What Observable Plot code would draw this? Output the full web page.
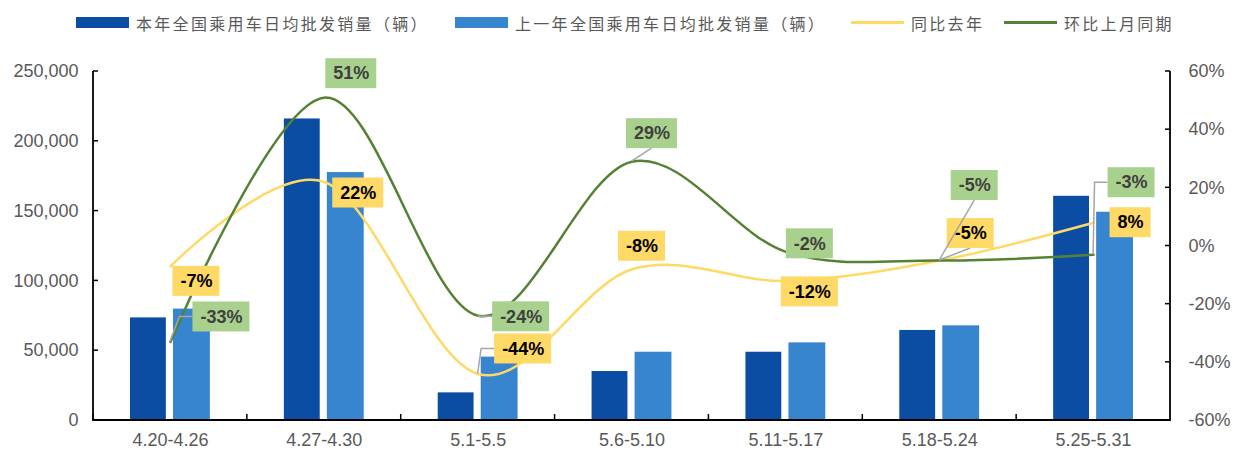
<!DOCTYPE html>
<html><head><meta charset="utf-8">
<script src="https://cdn.jsdelivr.net/npm/d3@7"></script>
<script src="https://cdn.jsdelivr.net/npm/@observablehq/plot@0.6"></script>
<style>
body{margin:0;background:#fff;}
#legend{position:relative;height:40px;width:1238px;font-family:"Noto Sans CJK SC",sans-serif;font-size:16px;color:#595959;}
.item{position:absolute;top:0;height:45px;display:flex;align-items:center;white-space:nowrap;}
.sw{margin-right:7px;flex:none}
.lbl{letter-spacing:2.3px}
</style></head><body>
<div id="legend"></div>
<div id="chart"></div>
<script>
// ---- data ----
const categories = ["4.20-4.26", "4.27-4.30", "5.1-5.5", "5.6-5.10", "5.11-5.17", "5.18-5.24", "5.25-5.31"];
const salesThisYear = [73500, 216000, 19800, 35100, 48900, 64500, 160600];
const salesLastYear = [79800, 177600, 45400, 48900, 55600, 67800, 149200];
const yoyPct = [-7, 22, -44, -8, -12, -5, 8];
const momPct = [-33, 51, -24, 29, -2, -5, -3];
const leftTicks = [0, 50000, 100000, 150000, 200000, 250000];
const rightTicks = [-60, -40, -20, 0, 20, 40, 60];
const seriesNames = ["本年全国乘用车日均批发销量（辆）", "上一年全国乘用车日均批发销量（辆）", "同比去年", "环比上月同期"];

// ---- layout of data labels (pixel offsets from the point) ----
const yoyLabelLayout = [
  {dx: 26, dy: 15}, {dx: 34, dy: 11}, {dx: 45, dy: -25, leader: "side"}, {dx: 10, dy: -23},
  {dx: 24, dy: 11}, {dx: 31, dy: -27, leader: "below"}, {dx: 37, dy: 0}
];
const momLabelLayout = [
  {dx: 51, dy: -25, leader: "side"}, {dx: 27, dy: -24}, {dx: 43, dy: 1, leader: "side"}, {dx: 20, dy: -28, leader: "below"},
  {dx: 24, dy: -8}, {dx: 35, dy: -75, leader: "below"}, {dx: 38, dy: -72, leader: "side"}
];

// ---- styles ----
const C_DARK = "#0b4da2", C_LIGHT = "#3784cf", C_YOY = "#ffd966", C_MOM = "#548235";
const BOX_YOY = "#ffd966", BOX_MOM = "#a9d18e";
const FONT = "'Liberation Sans', Arial, sans-serif";

// ---- legend ----
const legend = d3.select("#legend");
const legendItems = [
  {left: 76, kind: "rect", color: C_DARK},
  {left: 455, kind: "rect", color: C_LIGHT},
  {left: 851, kind: "line", color: C_YOY},
  {left: 1004, kind: "line", color: C_MOM}
];
legendItems.forEach((it, i) => {
  const d = legend.append("div").attr("class", "item").style("left", it.left + "px");
  d.append("div").attr("class", "sw")
    .style("width", "53px").style("height", it.kind === "rect" ? "11px" : "3px")
    .style("background", it.color);
  d.append("span").attr("class", "lbl").text(seriesNames[i]);
});

// ---- chart ----
const Y_MAX = 250000;
const toY = p => (p + 60) / 120 * Y_MAX;
const pct = p => p + "%";
const rows = categories.map((c, i) => ({cat: c, a: salesThisYear[i], b: salesLastYear[i], yoy: yoyPct[i], mom: momPct[i]}));

const PADX = 7.5, BOXH = 30, STUB = 13;
const measureCtx = document.createElement("canvas").getContext("2d");
measureCtx.font = "bold 18px 'Liberation Sans'";

function bandInfo(scales, dims) {
  const bw = typeof scales.x.bandwidth === "function" ? scales.x.bandwidth()
    : (dims.width - dims.marginLeft - dims.marginRight) / categories.length;
  return bw;
}

function labelBoxes(values, layout, fill) {
  return (index, scales, _v, dims) => {
    const g = d3.create("svg:g");
    const bw = bandInfo(scales, dims);
    values.forEach((v, i) => {
      const L = layout[i];
      const px = scales.x(categories[i]) + bw / 2, py = scales.y(toY(v));
      const cx = px + L.dx, cy = py + L.dy;
      const w = measureCtx.measureText(pct(v)).width + 2 * PADX;
      const left = cx - w / 2;
      if (L.leader === "side") {
        g.append("path").attr("d", `M${px},${py}L${left - STUB},${cy}L${left},${cy}`)
          .attr("fill", "none").attr("stroke", "#a6a6a6").attr("stroke-width", 1.5);
      } else if (L.leader === "below") {
        g.append("path").attr("d", `M${px},${py}L${cx},${cy + BOXH / 2}`)
          .attr("fill", "none").attr("stroke", "#a6a6a6").attr("stroke-width", 1.5);
      }
      g.append("rect").attr("x", left).attr("y", cy - BOXH / 2).attr("width", w).attr("height", BOXH).attr("fill", fill);
    });
    return g.node();
  };
}

function labelTexts(values, layout, color) {
  return values.map((v, i) => Plot.text([{cat: categories[i], v}], {
    x: "cat", y: d => toY(d.v), text: d => pct(d.v),
    dx: layout[i].dx, dy: layout[i].dy,
    fontSize: 18, fontWeight: "bold", fill: color, fontFamily: FONT
  }));
}

function axisFrame(index, scales, _v, dims) {
  const g = d3.create("svg:g").attr("stroke", "#000").attr("fill", "none");
  const x0 = dims.marginLeft, x1 = dims.width - dims.marginRight;
  const yb = scales.y(0), yt = scales.y(Y_MAX);
  categories.forEach(c => {
    const xx = scales.x(c);
    g.append("line").attr("x1", xx).attr("x2", xx).attr("y1", yb).attr("y2", yb - 6).attr("stroke-width", 1.5);
  });
  leftTicks.forEach(v => {
    const yy = scales.y(v);
    g.append("line").attr("x1", x0).attr("x2", x0 + 5).attr("y1", yy).attr("y2", yy).attr("stroke-width", 1.5);
  });
  rightTicks.forEach(p => {
    const yy = scales.y(toY(p));
    g.append("line").attr("x1", x1 - 5).attr("x2", x1).attr("y1", yy).attr("y2", yy).attr("stroke-width", 1.5);
  });
  g.append("path").attr("d", `M${x0},${yt}V${yb}H${x1}V${yt}`).attr("stroke-width", 1.8);
  return g.node();
}

const chart = Plot.plot({
  width: 1238, height: 413,
  marginLeft: 93, marginRight: 68, marginTop: 31, marginBottom: 33,
  style: {fontFamily: FONT, fontSize: "18px", color: "#595959", background: "#fff"},
  x: {type: "band", domain: categories, padding: 0, round: false, label: null},
  y: {domain: [0, Y_MAX], label: null},
  marks: [
    Plot.barY(rows, {x: "cat", y: "a", fill: C_DARK, insetLeft: 37, insetRight: 81}),
    Plot.barY(rows, {x: "cat", y: "b", fill: C_LIGHT, insetLeft: 80, insetRight: 37}),
    Plot.line(rows, {x: "cat", y: d => toY(d.yoy), stroke: C_YOY, strokeWidth: 2.5, curve: "cardinal"}),
    Plot.line(rows, {x: "cat", y: d => toY(d.mom), stroke: C_MOM, strokeWidth: 2.5, curve: "cardinal"}),
    labelBoxes(yoyPct, yoyLabelLayout, BOX_YOY),
    ...labelTexts(yoyPct, yoyLabelLayout, "#000"),
    labelBoxes(momPct, momLabelLayout, BOX_MOM),
    ...labelTexts(momPct, momLabelLayout, "#404040"),
    axisFrame,
    Plot.axisY({anchor: "left", ticks: leftTicks, tickFormat: d3.format(","), tickSize: 0, tickPadding: 15, label: null}),
    Plot.axisY(rightTicks.map(toY), {anchor: "right", tickFormat: d => Math.round(d / Y_MAX * 120 - 60) + "%", tickSize: 0, tickPadding: 18, label: null}),
    Plot.axisX({tickSize: 0, tickPadding: 13, label: null})
  ]
});
document.getElementById("chart").appendChild(chart);
</script>
</body></html>
